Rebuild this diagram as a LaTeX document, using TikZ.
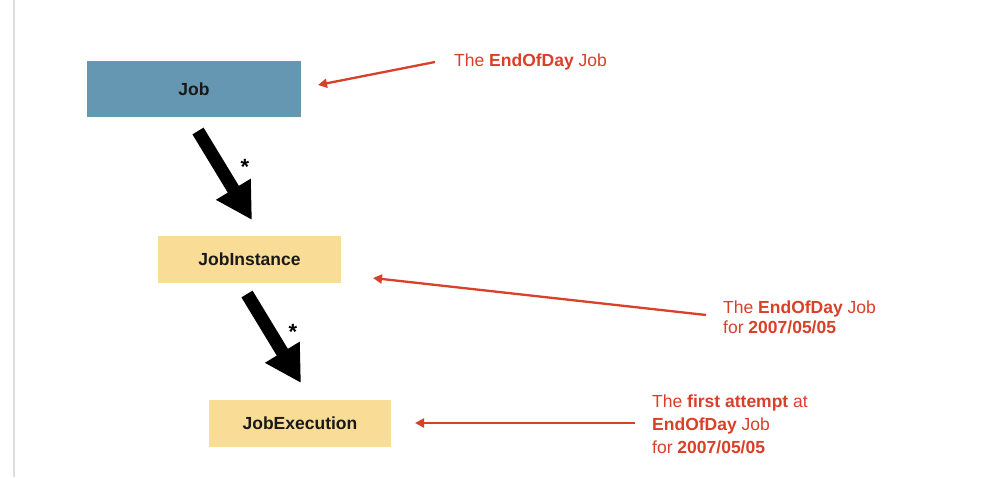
\documentclass[tikz,border=0pt]{standalone}
\usepackage{fontspec}
\setmainfont{Liberation Sans}
\usetikzlibrary{arrows.meta}
\definecolor{jobblue}{HTML}{6597B2}
\definecolor{boxyellow}{HTML}{F9DC95}
\definecolor{notered}{HTML}{D9402A}
\definecolor{edgegray}{HTML}{DDDDDD}
\begin{document}
\begin{tikzpicture}[x=1pt,y=-1pt,
  box/.style={inner sep=0pt, font=\fontsize{17.5}{21}\selectfont\bfseries, text=black!90},
  note/.style={inner sep=0pt, anchor=base west, align=left, text=notered},
  star/.style={inner sep=0pt, anchor=base, font=\fontsize{22}{24}\selectfont\bfseries},
  bigarrow/.style={line width=13pt, -{Triangle[length=36pt,width=38pt]}},
  redarrow/.style={draw=notered, line width=2.3pt, -{Triangle[length=9pt,width=9pt]}}
]
\useasboundingbox (0,0) rectangle (995,477);
\fill[white] (0,0) rectangle (995,477);
\draw[edgegray, line width=1.2pt] (14,0) -- (14,477);

\node[box, fill=jobblue, minimum width=214pt, minimum height=56pt] (job) at (194,89) {Job};
\node[box, fill=boxyellow, minimum width=183pt, minimum height=47pt] (inst) at (249.5,259.5) {JobInstance};
\node[box, fill=boxyellow, minimum width=182pt, minimum height=47pt] (exec) at (300,423.5) {JobExecution};

\coordinate (s1) at (198,131);
\coordinate (t1) at (252,220);
\coordinate (s2) at (247,294);
\coordinate (t2) at (301,383);
\draw[bigarrow] (s1) -- (t1);
\draw[bigarrow] (s2) -- (t2);
\node[star] (star1) at (245,174) {*};
\node[star] (star2) at (293,339) {*};

\node[note, font=\fontsize{17.5}{21}\selectfont] (noteA) at (454,66) {The \textbf{EndOfDay} Job};
\node[note, font=\fontsize{17.5}{20.5}\selectfont] (noteB) at (723,333.5) {The \textbf{EndOfDay} Job\\for \textbf{2007/05/05}};
\node[note, font=\fontsize{17.5}{23}\selectfont] (noteC) at (652,453) {The \textbf{first attempt} at\\\textbf{EndOfDay} Job\\for \textbf{2007/05/05}};

\coordinate (aS) at (435,62);
\coordinate (aT) at (318,85);
\coordinate (bS) at (706,315);
\coordinate (bT) at (373,278);
\coordinate (cS) at (635,423);
\coordinate (cT) at (415,423);
\draw[redarrow] (aS) -- (aT);
\draw[redarrow] (bS) -- (bT);
\draw[redarrow] (cS) -- (cT);
\end{tikzpicture}
\end{document}
